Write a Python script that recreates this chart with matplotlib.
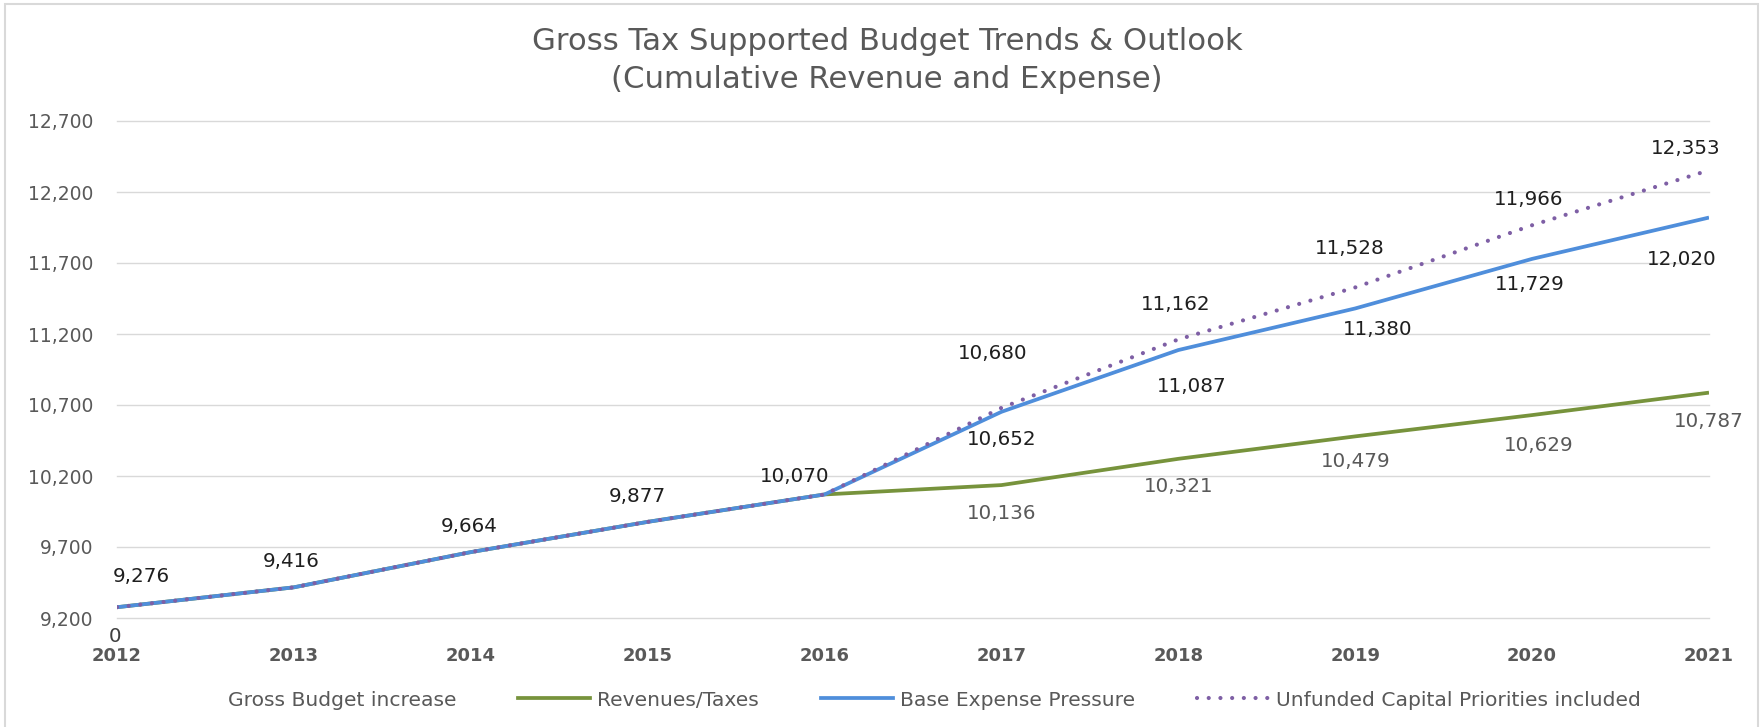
import matplotlib
matplotlib.use("Agg")
import matplotlib.pyplot as plt
from matplotlib.lines import Line2D
from matplotlib.patches import Rectangle

# ---------------- data ----------------
years = [2012, 2013, 2014, 2015, 2016, 2017, 2018, 2019, 2020, 2021]
revenues_taxes = [9276, 9416, 9664, 9877, 10070, 10136, 10321, 10479, 10629, 10787]
base_expense = [9276, 9416, 9664, 9877, 10070, 10652, 11087, 11380, 11729, 12020]
unfunded_capital = [9276, 9416, 9664, 9877, 10070, 10680, 11162, 11528, 11966, 12353]
gross_budget_increase = [0]          # only the 2012 point carries a label
y_ticks = [9200, 9700, 10200, 10700, 11200, 11700, 12200, 12700]
title_lines = ["Gross Tax Supported Budget Trends & Outlook",
               "(Cumulative Revenue and Expense)"]
series_names = ["Gross Budget increase", "Revenues/Taxes",
                "Base Expense Pressure", "Unfunded Capital Priorities included"]

# label offsets (pixels) - layout only
off_unfunded = [(24, 31), (-3, 26), (-2, 26), (-10, 25), (-30, 18),
                (-9, 54), (-3, 35), (-5, 39), (-3, 26), (-23, 22)]
off_base = [(0, -28), (13, -36), (22, -21), (-2, -26), (-27, -42)]
off_rev = [(0, -28), (0, -28), (0, -25), (7, -30), (0, -29)]

# ---------------- style ----------------
W, H, DPI = 1765, 727, 100
plt.rcParams["font.family"] = ["DejaVu Sans"]
GREEN = "#77933C"
BLUE = "#4F8EDB"
PURPLE = "#7E5FA5"
GRID = "#D9D9D9"
GREY = "#595959"
DARK = "#1F1F1F"
DOT = (0, (0.01, 2.8))

fig = plt.figure(figsize=(W / DPI, H / DPI), dpi=DPI)
L, R, T, B = 117, 1709, 121, 618
ax = fig.add_axes([L / W, 1 - B / H, (R - L) / W, (B - T) / H])

ax.plot(years, revenues_taxes, color=GREEN, lw=2.7, solid_capstyle="butt", zorder=3)
ax.plot(years, base_expense, color=BLUE, lw=2.7, solid_capstyle="butt", zorder=4)
ax.plot(years, unfunded_capital, color=PURPLE, lw=3.0, linestyle=DOT,
        dash_capstyle="round", zorder=5)

ax.set_xlim(years[0], years[-1])
ax.set_ylim(y_ticks[0], y_ticks[-1])
ax.set_yticks(y_ticks)
ax.set_yticklabels([f"{v:,}" for v in y_ticks])
ax.set_xticks(years)
ax.set_xticklabels([str(y) for y in years])
ax.grid(axis="y", color=GRID, lw=1.0)
for gl in ax.get_ygridlines():
    gl.set_clip_on(False)
ax.set_axisbelow(True)
for s in ax.spines.values():
    s.set_visible(False)
ax.tick_params(axis="both", length=0)
ax.tick_params(axis="y", pad=17, labelsize=13.5, labelcolor=GREY)
ax.tick_params(axis="x", pad=21, labelsize=13, labelcolor=GREY)
for t in ax.get_xticklabels():
    t.set_fontweight("bold")

LBL = 14.3
def lab(x, v, off, color):
    ax.annotate(f"{v:,}", xy=(x, v), xytext=off, textcoords="offset pixels",
                ha="center", va="center", fontsize=LBL, color=color,
                annotation_clip=False, zorder=6)

for i, (x, v) in enumerate(zip(years, unfunded_capital)):
    lab(x, v, off_unfunded[i], DARK)
for i, (x, v) in enumerate(zip(years[5:], base_expense[5:])):
    lab(x, v, off_base[i], DARK)
for i, (x, v) in enumerate(zip(years[5:], revenues_taxes[5:])):
    lab(x, v, off_rev[i], GREY)
# Gross budget increase label (value lies below the axis range)
ax.annotate(f"{gross_budget_increase[0]:,}",
            xy=(years[0], max(gross_budget_increase[0], y_ticks[0])),
            xytext=(-2, -18), textcoords="offset pixels", ha="center", va="center",
            fontsize=LBL, color="#404040", annotation_clip=False)

# title
t1 = fig.text(887 / W, 1 - 42 / H, title_lines[0], ha="center", va="center",
              fontsize=18, color=GREY)
t2 = fig.text(887 / W, 1 - 79 / H, title_lines[1], ha="center", va="center",
              fontsize=18, color=GREY)

fig.canvas.draw()
r = fig.canvas.get_renderer()
w1 = t1.get_window_extent(r).width
fs = 18 * 713 / w1
t1.set_fontsize(fs)
t2.set_fontsize(fs)

# legend
handles = [Line2D([], [], linestyle="none"),
           Line2D([], [], color=GREEN, lw=2.7),
           Line2D([], [], color=BLUE, lw=2.7),
           Line2D([], [], color=PURPLE, lw=3.0, linestyle=DOT,
                  dash_capstyle="round")]
tmp = fig.text(0, 0, series_names[3], fontsize=12)
wl = tmp.get_window_extent(r).width
tmp.remove()
lfs = 12 * 363 / wl
em = lfs * DPI / 72
leg = fig.legend(handles, series_names, loc="center", ncol=4, frameon=False,
                 bbox_to_anchor=(895 / W, 1 - 700 / H), fontsize=lfs,
                 handlelength=72 / em, handletextpad=7 / em, columnspacing=62 / em,
                 labelcolor=GREY, borderpad=0)

fig.patches.append(Rectangle((5 / W, -0.02), (1758 - 5) / W, 1.02 - 4 / H,
                             transform=fig.transFigure, fill=False,
                             ec=GRID, lw=1.5))

fig.savefig("out.png", dpi=DPI, facecolor="white")
